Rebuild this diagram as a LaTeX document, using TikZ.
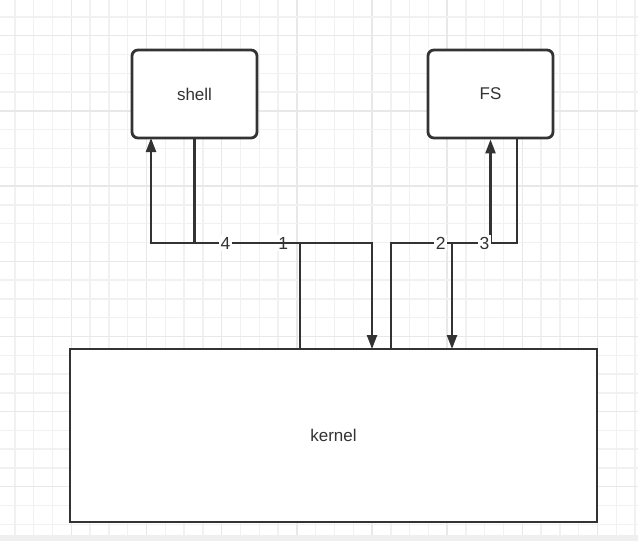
\documentclass[tikz,border=0pt]{standalone}
\usepackage{fontspec}
\setmainfont{Liberation Sans}
\usetikzlibrary{arrows.meta}
\definecolor{ink}{HTML}{333333}
\definecolor{gridminor}{HTML}{F1F1F1}
\definecolor{gridmajor}{HTML}{E8E8E8}
\definecolor{strip}{HTML}{EFEFEF}
\begin{document}
\begin{tikzpicture}[x=1pt,y=-1pt,
  box/.style={draw=ink,line width=2.8pt,fill=white,rounded corners=6pt,
    minimum width=125pt,minimum height=88pt,inner sep=0pt,
    font=\fontsize{17}{20}\selectfont,text=ink},
  bigbox/.style={box,rounded corners=0pt,minimum width=527pt,minimum height=173pt},
  conn/.style={draw=ink,line width=2.3pt},
  arr/.style={conn,-{Triangle[length=14pt,width=10pt]}},
  lbl/.style={fill=white,inner sep=1.5pt,font=\fontsize{17.5}{20}\selectfont,text=ink},
  gridmin/.style={draw=gridminor,line width=1.4pt},
  gridmaj/.style={draw=gridmajor,line width=1.4pt}]
\useasboundingbox (0,0) rectangle (638,541);
\fill[white] (0,0) rectangle (638,541);
% grid
\foreach \i in {0,...,33}{%
  \pgfmathsetmacro\gx{15+18.79*\i}%
  \pgfmathtruncatemacro\m{mod(\i,4)}%
  \ifnum\m=3 \draw[gridmaj] (\gx,0) -- (\gx,535);%
  \else \draw[gridmin] (\gx,0) -- (\gx,535);\fi}
\foreach \i in {0,...,27}{%
  \pgfmathsetmacro\gy{17+18.79*\i}%
  \pgfmathtruncatemacro\m{mod(\i,4)}%
  \ifnum\m=1 \draw[gridmaj] (0,\gy) -- (638,\gy);%
  \else \draw[gridmin] (0,\gy) -- (638,\gy);\fi}
\fill[strip] (0,535) rectangle (638,541);
% nodes
\node[box] (shell) at (194.5,94) {shell};
\node[box] (fs) at (490.5,94) {FS};
\node[bigbox] (kernel) at (333.5,435.5) {kernel};
% connection points
\coordinate (h) at (0,243);
\coordinate (k1) at (372,349);
\coordinate (k4) at (300,349);
\coordinate (k2) at (391,349);
\coordinate (k3) at (452,349);
\coordinate (s4) at (151,138);
\coordinate (f3) at (517,138);
% edges
\draw[arr] (shell.south) |- node[lbl,pos=0.75]{1} (k1 |- h) -- (k1);
\draw[arr] (k4) |- node[lbl,pos=0.75]{4} (s4 |- h) -- (s4);
\draw[arr] (k2) |- node[lbl,pos=0.75]{2} (fs.south |- h) -- (fs.south);
\draw[arr] (f3) |- node[lbl,pos=0.75]{3} (k3 |- h) -- (k3);
\end{tikzpicture}
\end{document}
